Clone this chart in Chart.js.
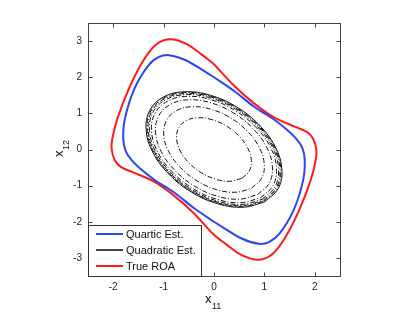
<!DOCTYPE html>
<html>
<head>
<meta charset="utf-8">
<script src="https://cdn.jsdelivr.net/npm/chart.js@4.4.0/dist/chart.umd.min.js"></script>
<style>
  html, body { margin: 0; padding: 0; background: #fff; }
  #wrap { width: 415px; height: 313px; }
</style>
</head>
<body>
<div id="wrap"><canvas id="roa"></canvas></div>
<script>
// True ROA boundary, read clockwise from the picture
var roaX = [0.0, 0.41, 0.80, 1.19, 1.59, 1.85, 1.97, 2.03, 2.02, 1.92, 1.69, 1.42, 1.16, 0.89, 0.56, 0.23,
            0.0, -0.41, -0.80, -1.19, -1.59, -1.85, -1.97, -2.03, -2.02, -1.92, -1.69, -1.42, -1.16, -0.89, -0.56, -0.23, 0.0];
var roaY = [2.36, 1.75, 1.27, 0.89, 0.64, 0.48, 0.29, 0.0, -0.28, -0.84, -1.68, -2.42, -2.89, -3.05, -2.93, -2.61,
            -2.36, -1.75, -1.27, -0.89, -0.64, -0.48, -0.29, 0.0, 0.28, 0.84, 1.68, 2.42, 2.89, 3.05, 2.93, 2.61, 2.36];

// quartic estimate
var quarticX = [0.0, 0.40, 0.79, 1.19, 1.43, 1.63, 1.75, 1.80, 1.77, 1.58, 1.30, 1.09, 0.89, 0.56, 0.16,
                0.0, -0.40, -0.79, -1.19, -1.43, -1.63, -1.75, -1.80, -1.77, -1.58, -1.30, -1.09, -0.89, -0.56, -0.16, 0.0];
var quarticY = [2.0, 1.62, 1.19, 0.83, 0.57, 0.30, 0.05, -0.28, -0.84, -1.68, -2.33, -2.56, -2.61, -2.47, -2.14,
                -2.0, -1.62, -1.19, -0.83, -0.57, -0.30, -0.05, 0.28, 0.84, 1.68, 2.33, 2.56, 2.61, 2.47, 2.14, 2.0];

// quadratic estimate, outermost level set
var quadX = [1.006, 1.274, 1.347, 1.217, 0.900, 0.447, -0.075, -0.584, -1.006, -1.274, -1.347, -1.217, -0.900, -0.447, 0.075, 0.584, 1.006];
var quadY = [-1.45, -1.082, -0.548, 0.069, 0.675, 1.179, 1.502, 1.598, 1.45, 1.082, 0.548, -0.069, -0.675, -1.179, -1.502, -1.598, -1.45];
// relative size of each drawn level set
var quadLevels = [1.0, 0.985, 0.97, 0.95, 0.92, 0.86, 0.74, 0.55];

var xTicks = [-2, -1, 0, 1, 2];
var yTicks = [-3, -2, -1, 0, 1, 2, 3];

var legendItems = [
  {label: 'Quartic Est.', color: '#2b45f2'},
  {label: 'Quadratic Est.', color: '#444444'},
  {label: 'True ROA', color: '#ff1a1a'}
];

function pts(xs, ys, s) {
  s = s || 1;
  return xs.map(function(v, i) { return {x: v * s, y: ys[i] * s}; });
}

var datasets = [];
quadLevels.forEach(function(s, i) {
  datasets.push({
    data: pts(quadX, quadY, s),
    borderColor: '#111',
    borderWidth: 1,
    borderDash: i === 0 ? [] : [5, 2, 1, 2],
    showLine: true, pointRadius: 0, tension: 0.4, fill: false
  });
});
datasets.push({
  data: pts(quarticX, quarticY),
  borderColor: legendItems[0].color, borderWidth: 2,
  showLine: true, pointRadius: 0, tension: 0.35, fill: false
});
datasets.push({
  data: pts(roaX, roaY),
  borderColor: legendItems[2].color, borderWidth: 2,
  showLine: true, pointRadius: 0, tension: 0.35, fill: false
});

var font = "'Liberation Sans', Arial, sans-serif";

var boxPlugin = {
  id: 'boxPlugin',
  afterDraw: function(chart) {
    var ctx = chart.ctx, a = chart.chartArea;
    var sx = chart.scales.x, sy = chart.scales.y;
    var L = Math.round(a.left) + 0.5, R = Math.round(a.right) + 0.5;
    var T = Math.round(a.top) + 0.5, B = Math.round(a.bottom) + 0.5;
    ctx.save();
    ctx.strokeStyle = '#444';
    ctx.lineWidth = 1;
    ctx.strokeRect(L, T, R - L, B - T);
    ctx.beginPath();
    xTicks.forEach(function(v) {
      var px = Math.round(sx.getPixelForValue(v)) + 0.5;
      ctx.moveTo(px, B); ctx.lineTo(px, B - 4);
      ctx.moveTo(px, T); ctx.lineTo(px, T + 4);
    });
    yTicks.forEach(function(v) {
      var py = Math.round(sy.getPixelForValue(v)) + 0.5;
      ctx.moveTo(L, py); ctx.lineTo(L + 4, py);
      ctx.moveTo(R, py); ctx.lineTo(R - 4, py);
    });
    ctx.stroke();

    // legend, lower left inside the axes
    var lx = L, ly = 225.5, lw = 113, lh = B - ly;
    ctx.fillStyle = '#fff';
    ctx.fillRect(lx, ly, lw, lh);
    ctx.strokeStyle = '#333';
    ctx.strokeRect(lx, ly, lw, lh);
    ctx.font = '11px ' + font;
    ctx.textBaseline = 'middle';
    ctx.textAlign = 'left';
    legendItems.forEach(function(it, i) {
      var yy = 234 + i * 16;
      ctx.strokeStyle = it.color;
      ctx.lineWidth = 2;
      ctx.beginPath(); ctx.moveTo(96, yy); ctx.lineTo(123, yy); ctx.stroke();
      ctx.fillStyle = '#111';
      ctx.fillText(it.label, 126, yy + 1);
    });

    // axis titles with subscripts
    ctx.fillStyle = '#111';
    ctx.textBaseline = 'alphabetic';
    ctx.font = '13px ' + font;
    ctx.fillText('x', 205, 303);
    ctx.font = '9px ' + font;
    ctx.fillText('11', 212, 309);

    ctx.translate(63, 157);
    ctx.rotate(-Math.PI / 2);
    ctx.font = '13px ' + font;
    ctx.fillText('x', 0, 0);
    ctx.font = '9px ' + font;
    ctx.fillText('12', 7, 6);
    ctx.restore();
  }
};

new Chart(document.getElementById('roa'), {
  type: 'scatter',
  data: {datasets: datasets},
  options: {
    responsive: true,
    maintainAspectRatio: false,
    animation: false,
    layout: {padding: {left: 0, right: 75, top: 23, bottom: 0}},
    plugins: {legend: {display: false}, tooltip: {enabled: false}},
    scales: {
      x: {
        type: 'linear', min: -2.5, max: 2.5,
        afterBuildTicks: function(s) { s.ticks = xTicks.map(function(v) { return {value: v}; }); },
        afterFit: function(s) { s.height = 37; },
        grid: {display: false, drawTicks: false},
        border: {display: false},
        ticks: {padding: 5, color: '#222', font: {family: font, size: 10}}
      },
      y: {
        type: 'linear', min: -3.5, max: 3.5,
        afterBuildTicks: function(s) { s.ticks = yTicks.map(function(v) { return {value: v}; }); },
        afterFit: function(s) { s.width = 88; },
        grid: {display: false, drawTicks: false},
        border: {display: false},
        ticks: {padding: 6, color: '#222', font: {family: font, size: 10}}
      }
    }
  },
  plugins: [boxPlugin]
});
</script>
</body>
</html>
